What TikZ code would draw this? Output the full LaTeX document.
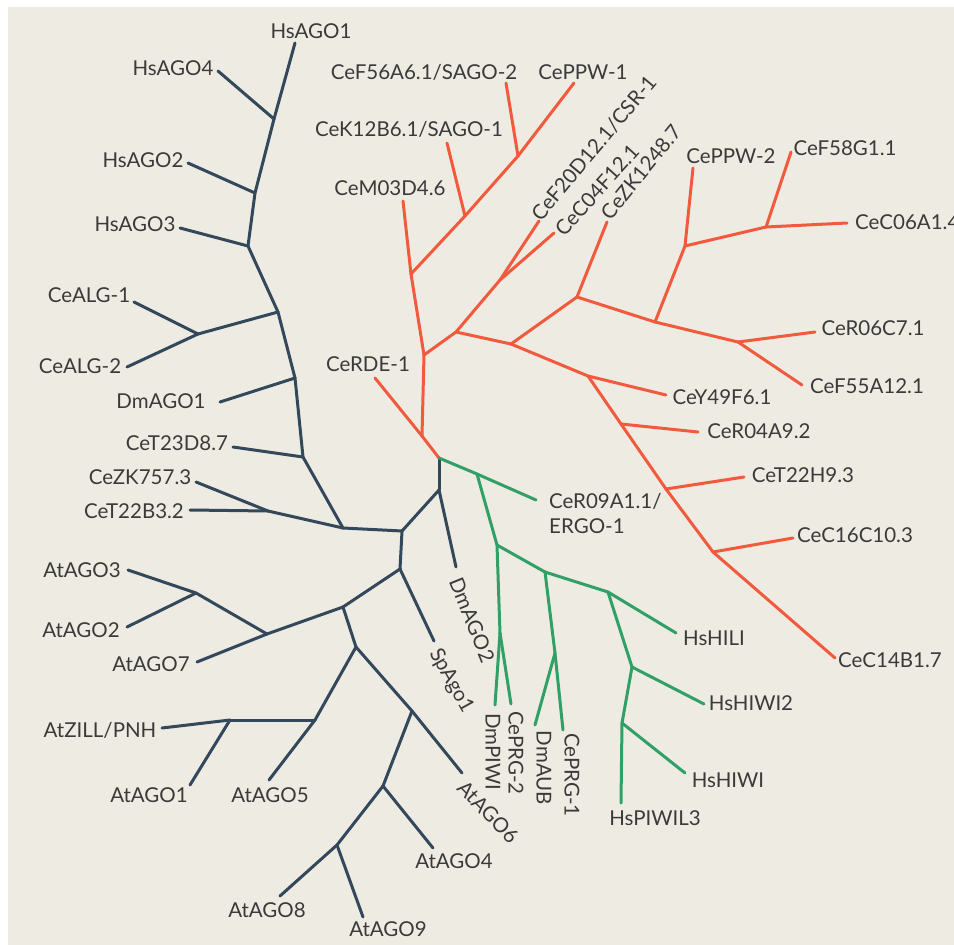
\documentclass[tikz,border=0pt]{standalone}
\usepackage{fontspec}
\setmainfont{Lato}
\definecolor{bgc}{RGB}{238,235,226}
\definecolor{navy}{RGB}{52,72,92}
\definecolor{tomato}{RGB}{242,90,62}
\definecolor{leaf}{RGB}{48,160,102}
\definecolor{txt}{RGB}{58,58,58}
\tikzset{
  lbl/.style={text=txt, inner sep=0pt, font=\fontsize{20.5}{25}\selectfont},
  branch/.style={line width=3pt, line cap=round, line join=round},
}
\begin{document}
\begin{tikzpicture}[x=1pt, y=-1pt]
    \useasboundingbox (0,0) rectangle (954,945);
    \fill[bgc] (8,7) rectangle (954,945);

    \coordinate (r0) at (439,458);

    % dark (Argonaute) part
    \foreach \n/\x/\y in {n1/439/490, n2/402/531, n3/343/528, n4/400/569,
        n5/343/607, n6/267/634, n7/196/593, n8/356/647, n9/315/720,
        n10/230/720, n11/412/711, n12/383/786, n13/337/845, n14/303/457,
        n15/268/511, n16/295/378, n17/278/312, n18/198/334, n19/248/246,
        n20/255/193, n21/274/119,
        tHsAGO1/295/43, tHsAGO4/218/71, tHsAGO2/188/163, tHsAGO3/180/228,
        tCeALGa/134/302, tCeALGb/127/367, tDmAGO1/220/402, tCeTtd/233/447,
        tCeZKs/196/482, tCeTtb/190/510, tAtAGO3/128/570, tAtAGO2/127/627,
        tAtAGO7/197/662, tAtZILL/162/728, tAtAGO1/190/785, tAtAGO5/269/780,
        tAtAGO8/280/896, tAtAGO9/363/917, tAtAGO4/433/848, tAtAGO6/462/773,
        tSpAgo1/434/641, tDmAGO2/456/567}
      \coordinate (\n) at (\x,\y);

    \foreach \a/\b in {r0/n1, n1/tDmAGO2, n1/n2, n2/n3, n2/n4, n4/tSpAgo1,
        n4/n5, n5/n6, n6/tAtAGO7, n6/n7, n7/tAtAGO3, n7/tAtAGO2, n5/n8,
        n8/n9, n9/n10, n10/tAtZILL, n10/tAtAGO1, n9/tAtAGO5, n8/n11,
        n11/tAtAGO6, n11/n12, n12/tAtAGO4, n12/n13, n13/tAtAGO8,
        n13/tAtAGO9, n3/n15, n15/tCeZKs, n15/tCeTtb, n3/n14, n14/tCeTtd,
        n14/n16, n16/tDmAGO1, n16/n17, n17/n18, n18/tCeALGa, n18/tCeALGb,
        n17/n19, n19/tHsAGO3, n19/n20, n20/tHsAGO2, n20/n21, n21/tHsAGO4,
        n21/tHsAGO1}
      \draw[branch, navy] (\a) -- (\b);

    % worm-specific part
    \foreach \n/\x/\y in {r1/422/436, rA/424/355, rB/411/274, rC/465/216,
        rD/518/156, rE/456/332, rF/500/280, rG/511/344, rH/577/297,
        rI/655/322, rJ/685/246, rK/766/227, rL/738/342, rM/588/376,
        rN/621/424, rO/666/489, rP/713/552,
        tCeRDE/375/378, tCeMo/403/201, tCeKt/447/143, tCeFfs/506/83,
        tCePPWa/574/83, tCeFtd/539/221, tCeCof/554/233, tCeZKo/607/222,
        tCePPWb/693/168, tCeFfe/791/152, tCeCos/847/223, tCeRos/815/332,
        tCeFff/802/385, tCeYf/666/395, tCeRof/698/432, tCeTth/744/477,
        tCeCsc/793/538, tCeCfb/835/658}
      \coordinate (\n) at (\x,\y);

    \foreach \a/\b in {r0/r1, r1/tCeRDE, r1/rA, rA/rB, rB/tCeMo, rB/rC,
        rC/tCeKt, rC/rD, rD/tCeFfs, rD/tCePPWa, rA/rE, rE/rF, rF/tCeFtd,
        rF/tCeCof, rE/rG, rG/rH, rH/tCeZKo, rH/rI, rI/rJ, rJ/tCePPWb,
        rJ/rK, rK/tCeFfe, rK/tCeCos, rI/rL, rL/tCeRos, rL/tCeFff, rG/rM,
        rM/tCeYf, rM/rN, rN/tCeRof, rN/rO, rO/tCeTth, rO/rP, rP/tCeCsc,
        rP/tCeCfb}
      \draw[branch, tomato] (\a) -- (\b);

    % Piwi part
    \foreach \n/\x/\y in {gQ/477/474, gR/497/545, gS/545/572, gT/500/633,
        gU/555/653, gV/608/592, gW/632/667, gX/622/723,
        tCeRog/536/500, tDmPIWI/495/705, tCePRGb/511/704, tDmAUB/535/725,
        tCePRGa/563/730, tHsHILI/676/633, tHsHIWIb/704/704,
        tHsHIWI/685/773, tHsPIWIL/621/803}
      \coordinate (\n) at (\x,\y);

    \foreach \a/\b in {r0/gQ, gQ/tCeRog, gQ/gR, gR/gT, gT/tDmPIWI,
        gT/tCePRGb, gR/gS, gS/gU, gU/tDmAUB, gU/tCePRGa, gS/gV,
        gV/tHsHILI, gV/gW, gW/tHsHIWIb, gW/gX, gX/tHsHIWI, gX/tHsPIWIL}
      \draw[branch, leaf] (\a) -- (\b);

    % labels
    \node[lbl] (HsAGO1) at (311,31) {HsAGO1};
    \node[lbl] (HsAGO4) at (173,68) {HsAGO4};
    \node[lbl] (HsAGO2) at (143,160) {HsAGO2};
    \node[lbl] (HsAGO3) at (135,224) {HsAGO3};
    \node[lbl] (CeALGa) at (89,295) {CeALG-1};
    \node[lbl] (CeALGb) at (80,366) {CeALG-2};
    \node[lbl] (DmAGO1) at (161,401) {DmAGO1};
    \node[lbl] (CeTtd) at (177,443) {CeT23D8.7};
    \node[lbl] (CeZKs) at (140,477) {CeZK757.3};
    \node[lbl] (CeTtb) at (134,511) {CeT22B3.2};
    \node[lbl] (AtAGO3) at (82,570) {AtAGO3};
    \node[lbl] (AtAGO2) at (81,630) {AtAGO2};
    \node[lbl] (AtAGO7) at (151,664) {AtAGO7};
    \node[lbl] (AtZILL) at (100,730) {AtZILL/PNH};
    \node[lbl] (AtAGO1) at (149,795) {AtAGO1};
    \node[lbl] (AtAGO5) at (270,795) {AtAGO5};
    \node[lbl] (AtAGO8) at (267,910) {AtAGO8};
    \node[lbl] (AtAGO9) at (388,929) {AtAGO9};
    \node[lbl] (AtAGO4) at (454,861) {AtAGO4};
    \node[lbl, rotate=-46] (AtAGO6) at (488,812) {AtAGO6};
    \node[lbl, rotate=-61] (SpAgo1) at (451,681) {SpAgo1};
    \node[lbl, rotate=-68] (DmAGO2) at (472,620) {DmAGO2};

    \node[lbl] (CeRDE) at (368,364) {CeRDE-1};
    \node[lbl] (CeMo) at (390,188) {CeM03D4.6};
    \node[lbl] (CeKt) at (409,129) {CeK12B6.1/SAGO-1};
    \node[lbl] (CeFfs) at (424,72) {CeF56A6.1/SAGO-2};
    \node[lbl] (CePPWa) at (583,72) {CePPW-1};
    \node[lbl, rotate=50] (CeFtd) at (594,148) {CeF20D12.1/CSR-1};
    \node[lbl, rotate=48] (CeCof) at (597,190) {CeC04F12.1};
    \node[lbl, rotate=51] (CeZKo) at (641,172) {CeZK1248.7};
    \node[lbl] (CePPWb) at (731,156) {CePPW-2};
    \node[lbl] (CeFfe) at (845,148) {CeF58G1.1};
    \node[lbl, anchor=west] (CeCos) at (855,222) {CeC06A1.4};
    \node[lbl] (CeRos) at (873,328) {CeR06C7.1};
    \node[lbl] (CeFff) at (867,386) {CeF55A12.1};
    \node[lbl] (CeYf) at (722,397) {CeY49F6.1};
    \node[lbl] (CeRof) at (759,431) {CeR04A9.2};
    \node[lbl] (CeTth) at (803,475) {CeT22H9.3};
    \node[lbl] (CeCsc) at (855,535) {CeC16C10.3};
    \node[lbl] (CeCfb) at (890,660) {CeC14B1.7};

    \node[lbl, anchor=west, align=left] (CeRog) at (549,514) {CeR09A1.1/\\ERGO-1};
    \node[lbl, rotate=-90] (DmPIWI) at (493,752) {DmPIWI};
    \node[lbl, rotate=-90] (CePRGb) at (516,753) {CePRG-2};
    \node[lbl, rotate=-90] (DmAUB) at (544,768) {DmAUB};
    \node[lbl, rotate=-90] (CePRGa) at (572,775) {CePRG-1};
    \node[lbl] (HsHILI) at (714,638) {HsHILI};
    \node[lbl] (HsHIWIb) at (751,703) {HsHIWI2};
    \node[lbl] (HsHIWI) at (728,780) {HsHIWI};
    \node[lbl] (HsPIWIL) at (655,818) {HsPIWIL3};
\end{tikzpicture}
\end{document}
